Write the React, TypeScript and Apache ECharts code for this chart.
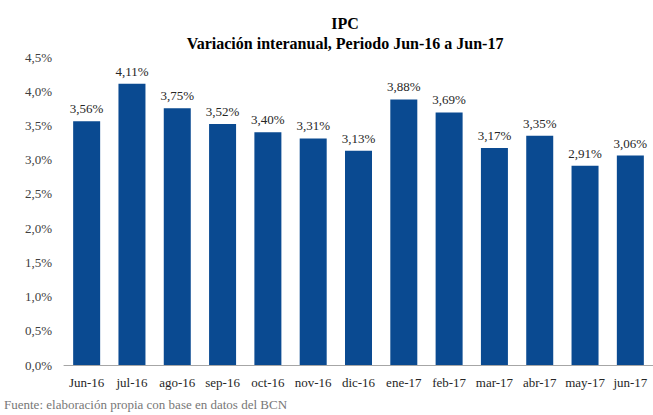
import React, { useEffect, useRef } from "react";
import * as echarts from "echarts";

const categories = ["Jun-16", "jul-16", "ago-16", "sep-16", "oct-16", "nov-16", "dic-16", "ene-17", "feb-17", "mar-17", "abr-17", "may-17", "jun-17"];
const values = [3.56, 4.11, 3.75, 3.52, 3.40, 3.31, 3.13, 3.88, 3.69, 3.17, 3.35, 2.91, 3.06];
const titleText = "IPC";
const subtitleText = "Variación interanual, Periodo Jun-16 a Jun-17";
const sourceText = "Fuente: elaboración propia con base en datos del BCN";

const FONT = "Liberation Serif";

export default function App() {
  const ref = useRef<HTMLDivElement>(null);
  useEffect(() => {
    if (!ref.current) return;
    const chart = echarts.init(ref.current, undefined, { renderer: "svg" });
    chart.setOption({
      animation: false,
      backgroundColor: "#ffffff",
      textStyle: { fontFamily: FONT },
      title: [
        {
          text: titleText,
          left: 340,
          top: 10,
          textAlign: "center",
          textStyle: { fontFamily: FONT, fontSize: 16, fontWeight: "bold", color: "#000" },
        },
        {
          text: subtitleText,
          left: 340,
          top: 30,
          textAlign: "center",
          textStyle: { fontFamily: FONT, fontSize: 16, fontWeight: "bold", color: "#000" },
        },
        {
          text: sourceText,
          left: 2,
          top: 396,
          padding: 2,
          textStyle: { fontFamily: FONT, fontSize: 13, fontWeight: "normal", color: "#777" },
        },
      ],
      grid: { left: 64, right: -7, top: 57, bottom: 50, containLabel: false },
      xAxis: {
        type: "category",
        data: categories,
        axisLine: { show: true, lineStyle: { color: "#a6a6a6", width: 1 } },
        axisTick: { show: false },
        axisLabel: { fontFamily: FONT, fontSize: 13, color: "#262626", margin: 11, interval: 0 },
      },
      yAxis: {
        type: "value",
        min: 0,
        max: 4.5,
        interval: 0.5,
        splitLine: { show: false },
        axisLine: { show: false },
        axisTick: { show: false },
        axisLabel: {
          fontFamily: FONT,
          fontSize: 13,
          color: "#404040",
          margin: 12,
          formatter: (v: number) => v.toFixed(1).replace(".", ",") + "%",
        },
      },
      series: [
        {
          type: "bar",
          data: values,
          barWidth: 27,
          itemStyle: { color: "#0A4A91" },
          label: {
            show: true,
            position: "top",
            distance: 6,
            fontFamily: FONT,
            fontSize: 13,
            color: "#262626",
            formatter: (p: any) => p.value.toFixed(2).replace(".", ",") + "%",
          },
        },
      ],
    });
    return () => chart.dispose();
  }, []);
  return <div ref={ref} style={{ width: 653, height: 415, position: "absolute", left: 0, top: 0 }} />;
}
